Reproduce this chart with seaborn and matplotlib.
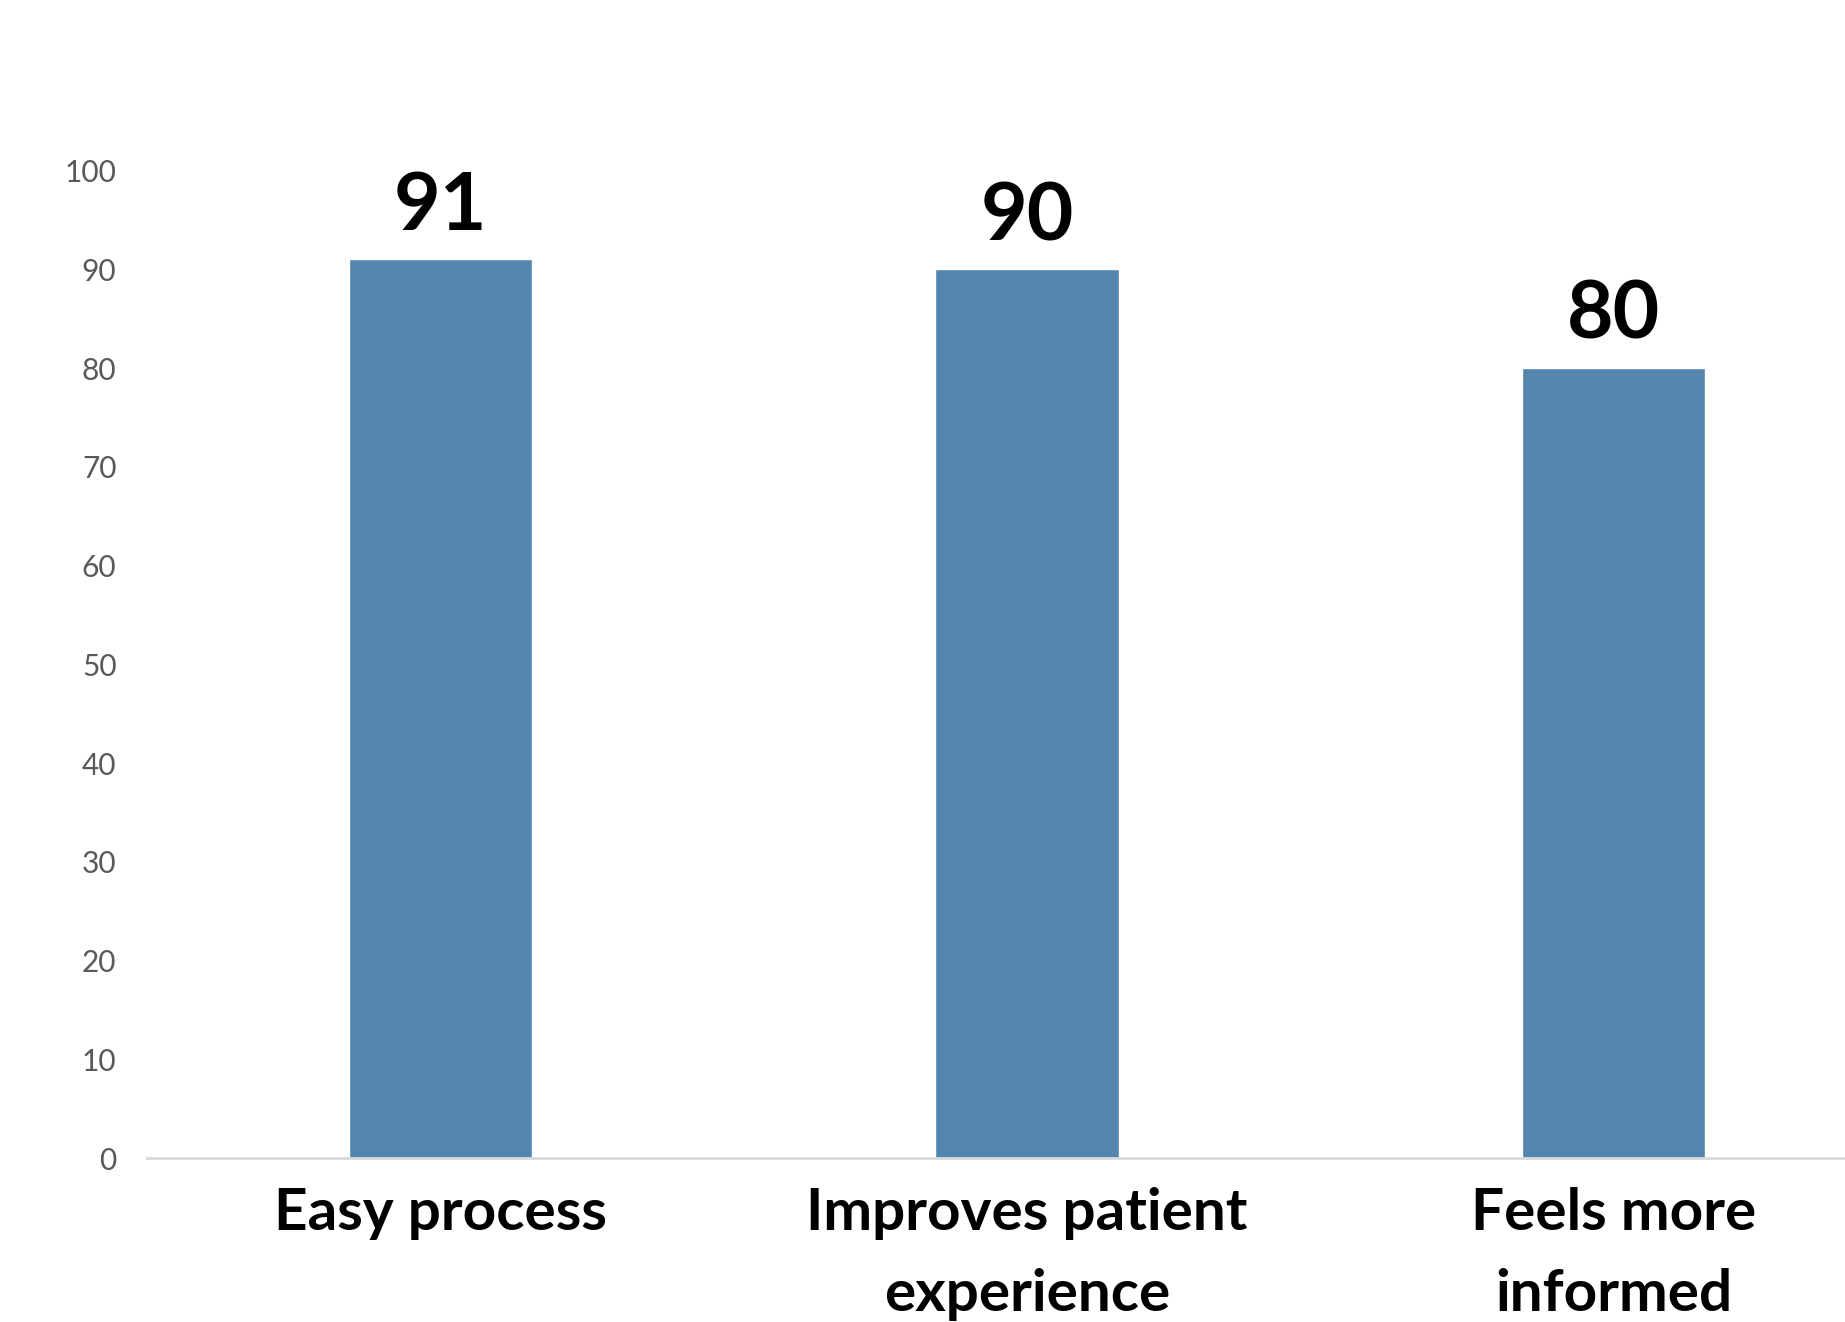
import matplotlib
matplotlib.use("Agg")
import matplotlib.pyplot as plt
import seaborn as sns
import pandas as pd

# Survey results (% agreeing)
categories = ["Easy process", "Improves patient\nexperience", "Feels more\ninformed"]
values = [91, 90, 80]
y_ticks = [0, 10, 20, 30, 40, 50, 60, 70, 80, 90, 100]

sns.set_theme(style="white")
plt.rcParams["font.family"] = ["Lato", "DejaVu Sans"]

df = pd.DataFrame({"category": categories, "value": values})

fig = plt.figure(figsize=(18.45, 13.22), dpi=100)
ax = fig.add_axes([0.0797, 0.124, 1.0336 - 0.0797, 0.871 - 0.124])

sns.barplot(data=df, x="category", y="value", color="#5286AE", saturation=1,
            width=0.313, ax=ax)

ax.set_xlim(-0.5, 2.5)
ax.set_ylim(0, 100)
ax.set_yticks(y_ticks)
ax.set_xlabel("")
ax.set_ylabel("")

for s in ["top", "right", "left"]:
    ax.spines[s].set_visible(False)
ax.spines["bottom"].set_color("#D9D9D9")
ax.spines["bottom"].set_linewidth(2)

ax.tick_params(axis="y", length=0, pad=22, labelsize=21.5, labelcolor="#595959")
ax.tick_params(axis="x", length=0, pad=21, labelsize=42, labelcolor="black")
for lbl in ax.get_xticklabels():
    lbl.set_fontweight("bold")
    lbl.set_linespacing(1.64)

for i, v in enumerate(values):
    ax.annotate(f"{v}", (i, v), xytext=(0, 21), textcoords="offset points",
                ha="center", va="baseline", fontsize=58, fontweight="bold",
                color="black")

fig.savefig("out.png", dpi=100)
